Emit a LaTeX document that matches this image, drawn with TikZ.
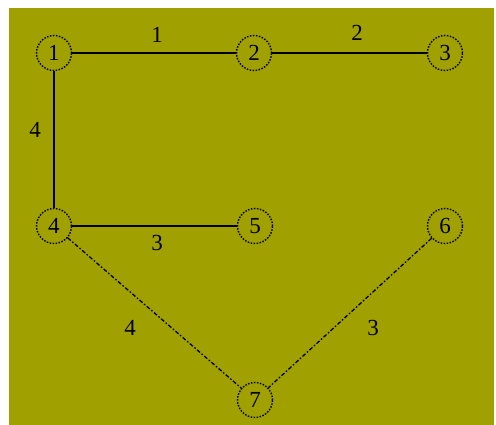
\documentclass[tikz,border=0pt]{standalone}
\usepackage{fontspec}
\setmainfont{Liberation Serif}
\definecolor{olivebg}{HTML}{A0A000}
\begin{document}
\begin{tikzpicture}[x=1pt,y=-1pt,
  vtx/.style={circle,draw=black,dash pattern=on 1.5pt off 1.5pt,line width=1.4pt,minimum size=35pt,inner sep=0pt,font=\fontsize{23}{25}\selectfont},
  solidedge/.style={draw=black,line width=1.8pt},
  dashedge/.style={draw=black,line width=1.3pt,dash pattern=on 4pt off 2pt on 1.5pt off 2pt},
  lbl/.style={font=\fontsize{23}{25}\selectfont,inner sep=0pt}]
\useasboundingbox (0,0) rectangle (496,425);
\fill[olivebg] (9,8) rectangle (494,425);
\node[vtx] (n1) at (54,53) {1};
\node[vtx] (n2) at (254,53) {2};
\node[vtx] (n3) at (445,53) {3};
\node[vtx] (n4) at (54,226) {4};
\node[vtx] (n5) at (255,226) {5};
\node[vtx] (n6) at (445,226) {6};
\node[vtx] (n7) at (255,400) {7};
\draw[solidedge] (n1) -- (n2);
\draw[solidedge] (n2) -- (n3);
\draw[solidedge] (n1) -- (n4);
\draw[solidedge] (n4) -- (n5);
\draw[dashedge] (n4) -- (n7);
\draw[dashedge] (n6) -- (n7);
\node[lbl] (l12) at (157,35) {1};
\node[lbl] (l23) at (357,33) {2};
\node[lbl] (l14) at (35,130) {4};
\node[lbl] (l45) at (157,243) {3};
\node[lbl] (l47) at (130,328) {4};
\node[lbl] (l67) at (373,328) {3};
\end{tikzpicture}
\end{document}
